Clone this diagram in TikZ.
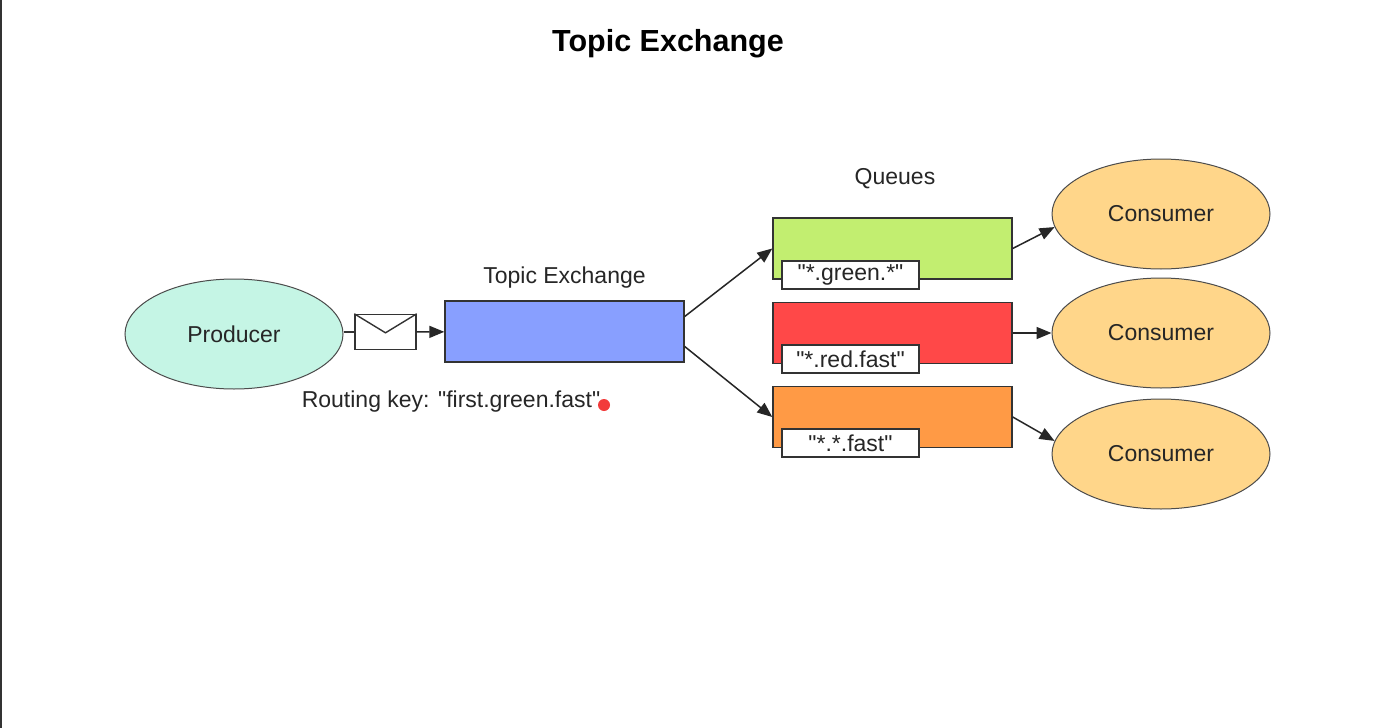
\documentclass[tikz,border=0pt]{standalone}
\usepackage{fontspec}
\setmainfont{Liberation Sans}[Ligatures=TeXOff]
\usetikzlibrary{shapes.geometric, arrows.meta, positioning}
\definecolor{producerfill}{HTML}{C5F5E5}
\definecolor{exchangefill}{HTML}{889FFF}
\definecolor{greenq}{HTML}{C2EE70}
\definecolor{redq}{HTML}{FF4848}
\definecolor{orangeq}{HTML}{FF9A45}
\definecolor{consumerfill}{HTML}{FFD68A}
\definecolor{pointer}{HTML}{F23B3B}

\begin{document}
\begin{tikzpicture}[
  x=1pt, y=-1pt,
  txt/.style={font=\fontsize{23}{27}\selectfont, text=black!85},
  actor/.style={ellipse, draw=black!70, line width=1pt, minimum width=218pt,
                minimum height=110pt, inner sep=0pt, txt},
  queue/.style={rectangle, draw=black!80, line width=1.4pt, minimum width=239pt,
                minimum height=61pt, inner sep=0pt},
  tag/.style={rectangle, draw=black!80, fill=white, line width=1.4pt,
              minimum width=137pt, minimum height=28pt, inner sep=0pt, txt},
  arr/.style={-{Triangle[length=15pt, width=12pt]}, line width=1.5pt, color=black!85},
]
  \fill[white] (0,0) rectangle (1385,728);
  \useasboundingbox (0,0) rectangle (1385,728);
  \draw[black!80, line width=2.5pt] (1,0) -- (1,728);

  % Title
  \node[font=\bfseries\fontsize{30.5}{36}\selectfont] (title) at (668,44) {Topic Exchange};

  % Producer side
  \node[actor, fill=producerfill] (producer) at (234,334) {Producer};
  \node[rectangle, draw=black!80, fill=white, line width=1.4pt, minimum width=61pt,
        minimum height=35pt, inner sep=0pt] (mail) at (385.5,332) {};
  \node[queue, fill=exchangefill] (exchange) at (564.5,331.5) {};
  \node[txt, above=8pt of exchange] (exlabel) {Topic Exchange};
  \node[txt] (routing) at (451,402) {Routing key: "first.green.fast"};
  \node[circle, fill=pointer, minimum size=12pt, inner sep=0pt] (dot) at (604,405) {};

  % Queues
  \node[txt] (qlabel) at (895,179) {Queues};
  \node[queue, fill=greenq] (q1) at (892.5,248.5) {};
  \node[queue, fill=redq] (q2) at (892.5,333) {};
  \node[queue, fill=orangeq] (q3) at (892.5,417) {};
  \node[tag] (t1) at (850.5,275) {"*.green.*"};
  \node[tag] (t2) at (850.5,359) {"*.red.fast"};
  \node[tag] (t3) at (850.5,443) {"*.*.fast"};

  % Consumers
  \node[actor, fill=consumerfill] (c1) at (1161,214) {Consumer};
  \node[actor, fill=consumerfill] (c2) at (1161,333) {Consumer};
  \node[actor, fill=consumerfill] (c3) at (1161,454) {Consumer};

  % Arrows
  \draw[black!80, line width=1.4pt] (mail.north west) -- ([yshift=-19pt]mail.north) -- (mail.north east);
  \draw[black!80, line width=1.4pt] (producer.east |- mail.west) -- (mail.west);
  \draw[arr] (mail) -- (exchange);
  \draw[arr] ([yshift=15pt]exchange.east) -- (q1.west);
  \draw[arr] ([yshift=-15pt]exchange.east) -- (q3.west);
  \draw[arr] (q1.east) -- (c1.187);
  \draw[arr] (q2.east) -- (c2.west);
  \draw[arr] (q3.east) -- (c3.173);

\end{tikzpicture}
\end{document}
